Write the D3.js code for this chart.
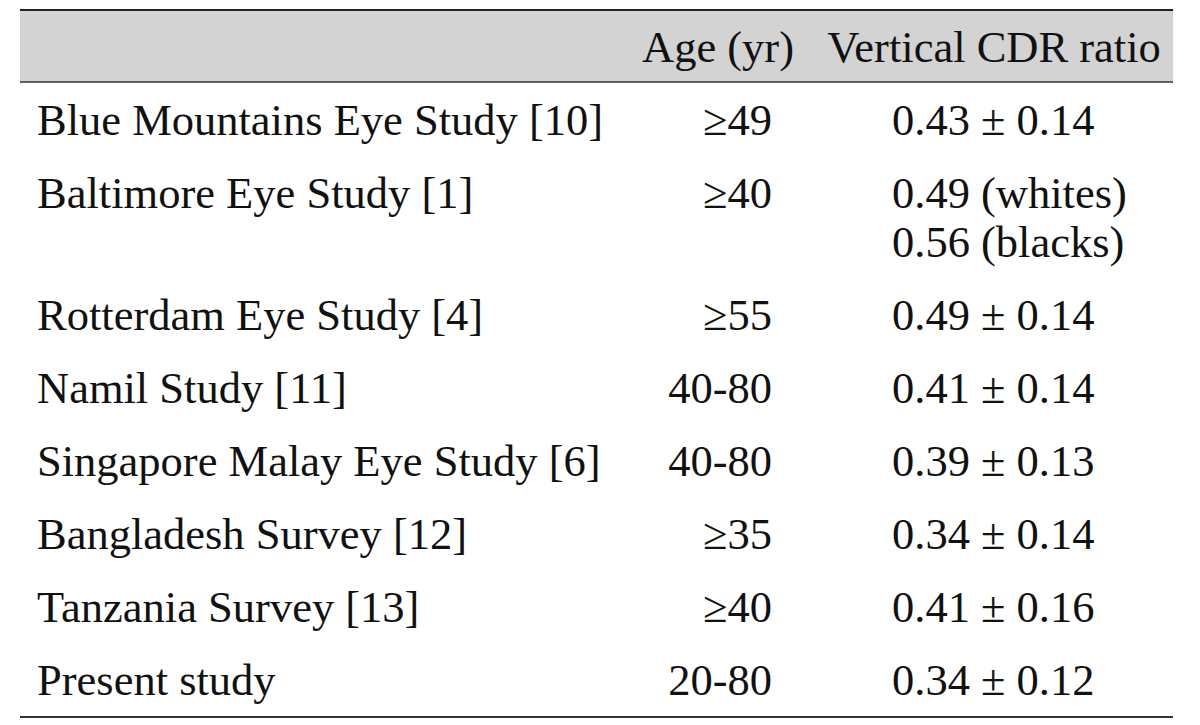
<!DOCTYPE html>
<html><head><meta charset="utf-8">
<script src="https://cdn.jsdelivr.net/npm/d3@7"></script>
<style>html,body{margin:0;padding:0;background:#fff;}</style>
</head><body>
<svg id="c" width="1200" height="725"></svg>
<script>
const headers = ["", "Age (yr)", "Vertical CDR ratio"];
const studies = ["Blue Mountains Eye Study [10]", "Baltimore Eye Study [1]", "Rotterdam Eye Study [4]", "Namil Study [11]", "Singapore Malay Eye Study [6]", "Bangladesh Survey [12]", "Tanzania Survey [13]", "Present study"];
const ages = ["≥49", "≥40", "≥55", "40-80", "40-80", "≥35", "≥40", "20-80"];
const cdr = [["0.43 ± 0.14"], ["0.49 (whites)", "0.56 (blacks)"], ["0.49 ± 0.14"], ["0.41 ± 0.14"], ["0.39 ± 0.13"], ["0.34 ± 0.14"], ["0.41 ± 0.16"], ["0.34 ± 0.12"]];

const svg = d3.select("#c");
const font = "'Liberation Serif','Times New Roman',serif";
const fs = 44.5;
const left = 20, right = 1173;
const topY = 10, headBottom = 82, bottomY = 717;
const rowGap = 73, lineGap = 49;

// cumulative line offsets for each row
let acc = 0; const rowY = [];
cdr.forEach((c) => { rowY.push(acc); acc += (c.length - 1) * lineGap + rowGap; });
const y = d3.scaleLinear().domain([0, acc]).range([134.5, 134.5 + acc]);

svg.append("rect").attr("x", left).attr("y", topY).attr("width", right - left).attr("height", headBottom - topY).attr("fill", "#d3d3d3");
svg.append("line").attr("x1", left).attr("x2", right).attr("y1", topY).attr("y2", topY).attr("stroke", "#222").attr("stroke-width", 2.2);
svg.append("line").attr("x1", left).attr("x2", right).attr("y1", headBottom).attr("y2", headBottom).attr("stroke", "#333").attr("stroke-width", 1.6);
svg.append("line").attr("x1", left).attr("x2", right).attr("y1", bottomY).attr("y2", bottomY).attr("stroke", "#333").attr("stroke-width", 2);

const g = svg.append("g").attr("font-family", font).attr("font-size", fs).attr("fill", "#111");

g.append("text").attr("x", 718).attr("y", 62).attr("text-anchor", "middle").text(headers[1]);
g.append("text").attr("x", 994).attr("y", 62).attr("text-anchor", "middle").text(headers[2]);

g.selectAll("text.s").data(studies).join("text").attr("class", "s")
  .attr("x", 37).attr("y", (d, i) => y(rowY[i])).text(d => d);
g.selectAll("text.a").data(ages).join("text").attr("class", "a")
  .attr("x", 772).attr("y", (d, i) => y(rowY[i])).attr("text-anchor", "end").text(d => d);
cdr.forEach((lines, i) => {
  lines.forEach((t, j) => {
    g.append("text").attr("x", 892).attr("y", y(rowY[i] + j * lineGap)).text(t);
  });
});
</script>
</body></html>
